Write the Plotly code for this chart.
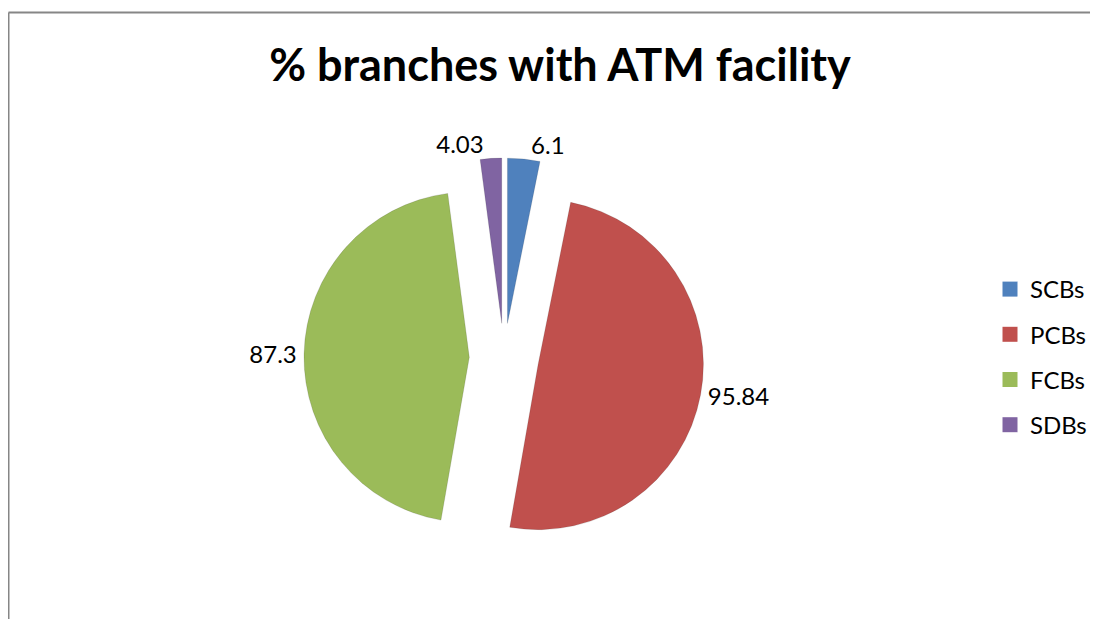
import plotly.graph_objects as go

categories = ["SCBs", "PCBs", "FCBs", "SDBs"]
values = [6.1, 95.84, 87.3, 4.03]
colors = ["#4F81BD", "#C0504D", "#9BBB59", "#8064A2"]
title_text = "% branches with ATM facility"

W, H = 1090, 611
font_family = "Lato, 'Open Sans', sans-serif"

fig = go.Figure()
fig.add_trace(go.Pie(
    labels=categories,
    values=values,
    sort=False,
    direction="clockwise",
    rotation=0,
    pull=[0.21, 0.21, 0.21, 0.21],
    marker=dict(colors=colors, line=dict(color="rgba(0,0,0,0.12)", width=1)),
    textinfo="value",
    textposition="outside",
    textfont=dict(size=24, color="#000000", family=font_family),
    domain=dict(x=[296 / W, 696 / W], y=[1 - 550 / H, 1 - 150 / H]),
    showlegend=False,
))

# legend entries (one per category, spaced like the reference)
for i, (cat, col) in enumerate(zip(categories, colors)):
    fig.add_trace(go.Scatter(
        x=[None], y=[None], mode="markers", name=cat,
        legendgroup=cat,
        marker=dict(symbol="square", size=15, color=col),
    ))

fig.update_layout(
    width=W, height=H,
    margin=dict(l=0, r=0, t=0, b=0),
    paper_bgcolor="white",
    plot_bgcolor="white",
    xaxis=dict(visible=False),
    yaxis=dict(visible=False),
    title=dict(text="<b>" + title_text + "</b>", x=552 / W, xanchor="center",
               y=1 - 57 / H, yanchor="middle",
               font=dict(size=45, color="#000000", family=font_family)),
    legend=dict(x=982 / W, xanchor="left", y=1 - 259 / H, yanchor="top",
                traceorder="grouped", tracegroupgap=11, itemsizing="trace",
                font=dict(size=24, color="#000000", family=font_family),
                bgcolor="rgba(0,0,0,0)"),
    shapes=[
        dict(type="line", xref="paper", yref="paper", x0=0.5 / W, x1=0.5 / W, y0=0, y1=1 - 4.5 / H,
             line=dict(color="#868686", width=2)),
        dict(type="line", xref="paper", yref="paper", x0=0.5 / W, x1=1, y0=1 - 4.5 / H, y1=1 - 4.5 / H,
             line=dict(color="#868686", width=2)),
    ],
)

fig.write_html("out.html")
